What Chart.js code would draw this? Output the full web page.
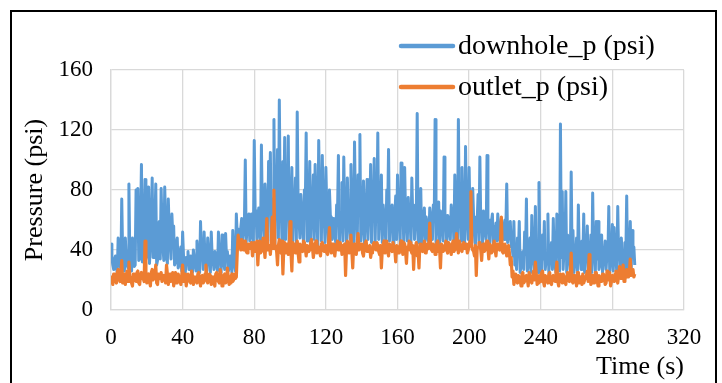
<!DOCTYPE html>
<html>
<head>
<meta charset="utf-8">
<script src="https://cdn.jsdelivr.net/npm/chart.js@4/dist/chart.umd.min.js"></script>
<style>
  html, body { margin: 0; padding: 0; background: #fff; }
  #wrap { width: 722px; height: 383px; position: relative; }
</style>
</head>
<body>
<div id="wrap"><canvas id="c" width="722" height="383"></canvas></div>
<script>
// Series names and axis texts
const seriesNames = ['downhole_p (psi)', 'outlet_p (psi)'];
const xTitle = 'Time (s)';
const yTitle = 'Pressure (psi)';

// Sampling interval of the logger, seconds
const SAMPLE_STEP_S = 0.5;

// Downhole pressure, psi, two readings per second (one row = 5 s)
const downhole = [
  44,35, 30,27, 34,36, 28,25, 48,34, 31,27, 74,37, 33,26, 48,35, 30,28,
  84,36, 35,26, 48,38, 29,30, 80,54, 81,33, 34,56, 97,32, 40,58, 87,34,
  36,55, 82,31, 45,59, 88,35, 38,56, 84,30, 33,57, 59,34, 81,55,
  42,33, 82,58, 35,31, 74,54, 45,34, 64,50, 56,30, 32,44, 48,28, 30,38,
  42,26, 52,36, 28,25, 35,34, 39,27, 27,36, 33,25, 40,35, 30,26, 46,37,
  31,25, 59,36, 40,27, 52,34, 36,26, 48,37, 34,25, 52,35, 33,27, 39,36,
  30,26, 52,34, 35,25, 50,37, 31,27, 51,35, 39,26, 28,36, 34,25, 53,38,
  30,26, 64,50, 54,46, 48,55, 61,47, 52,58, 100,45, 55,62, 64,46, 50,64,
  62,44, 113,66, 66,47, 52,68, 60,43, 110,65, 58,48, 84,70, 62,45, 99,67,
  105,46, 74,71, 127,44, 80,68, 107,48, 140,72, 70,45, 99,69, 115,47,
  76,66, 116,44, 62,70, 95,46, 70,67, 88,43, 132,71, 60,48, 77,65, 55,45,
  80,68, 118,46, 72,70, 99,44, 65,66, 90,47, 97,69, 60,43, 113,71, 85,46,
  103,67, 66,45, 95,68, 58,44, 80,63, 62,47, 61,60, 50,45, 70,64, 103,43,
  60,65, 85,46, 102,62, 66,44, 88,66, 58,47, 97,63, 72,45, 112,67, 64,43,
  90,64, 117,46, 55,62, 86,44, 60,65, 87,47, 68,61, 97,45, 80,66,
  101,44, 74,63, 118,47, 62,65, 90,45, 70,61, 58,43, 80,64, 107,46, 62,60,
  70,44, 55,63, 76,47, 90,61, 60,45, 98,65, 72,43, 95,62, 58,46, 75,60,
  62,44, 88,63, 70,47, 58,60, 131,45, 64,62, 81,43, 56,61, 68,46, 62,58,
  50,44, 68,62, 55,47, 70,59, 127,45, 58,61, 72,43, 66,60, 55,46, 102,58,
  60,44, 63,61, 52,47, 70,59, 62,45, 90,62, 60,43, 127,60, 64,46, 95,63,
  70,44, 109,61, 60,47, 95,60, 66,45, 81,62, 55,43, 62,59, 77,46,
  102,58, 58,44, 66,60, 52,47, 103,57, 55,45, 60,59, 64,43, 50,56, 58,46,
  64,55, 48,44, 61,57, 55,47, 60,54, 84,45, 50,56, 59,42, 42,36, 59,30,
  35,27, 48,36, 59,25, 30,35, 39,27, 52,37, 74,26, 30,34, 48,25, 63,36,
  34,27, 69,35, 40,25, 85,37, 32,26, 50,34, 59,27, 33,36, 64,25, 36,35,
  45,27, 61,36, 30,25, 64,37, 48,26, 124,35, 79,27, 40,36, 79,25, 50,34,
  34,27, 92,36, 53,25, 31,35, 48,26, 70,37, 35,27, 46,34, 64,25,
  38,36, 56,27, 32,35, 50,25, 78,37, 36,26, 59,34, 59,27, 30,36, 50,25,
  34,35, 46,27, 38,36, 69,25, 32,34, 57,26, 55,37, 33,25, 69,35, 40,27,
  48,36, 30,25, 45,34, 76,27, 38,35, 59,26, 53,36, 42,30
];

// Outlet pressure, psi, same time base
const outlet = [
  22,20, 17,24, 24,19, 18,25, 27,21, 19,23, 33,18, 21,24, 17,22, 26,19,
  32,23, 20,18, 16,24, 24,20, 19,25, 26,18, 17,23, 25,21, 21,19, 46,24,
  18,22, 24,19, 16,25, 27,20, 20,23, 30,18, 17,24, 23,21, 25,19,
  19,23, 22,18, 30,24, 17,21, 24,19, 20,25, 16,22, 25,18, 18,24, 22,20,
  17,23, 30,19, 21,24, 16,20, 24,22, 19,18, 26,23, 17,21, 22,19, 18,24,
  25,20, 16,22, 23,18, 19,24, 30,21, 18,19, 24,23, 17,20, 22,18, 16,24,
  25,21, 19,18, 27,23, 16,20, 23,24, 18,19, 28,22, 17,18, 22,24, 19,20,
  24,21, 22,38, 50,45, 44,40, 47,43, 40,46, 46,39, 38,44, 44,41, 41,45,
  36,42, 45,39, 42,46, 30,41, 46,38, 39,44, 48,42, 35,45, 61,40, 40,43,
  37,45, 62,41, 80,44, 42,39, 30,43, 47,40, 38,46, 24,41, 45,38,
  40,44, 37,42, 59,39, 26,45, 44,41, 38,43, 46,38, 32,44, 42,40, 39,46,
  45,41, 36,43, 43,39, 40,45, 47,42, 35,40, 44,46, 38,41, 42,39, 36,44,
  45,40, 39,43, 43,38, 37,45, 55,41, 38,44, 44,39, 36,42, 42,46, 40,40,
  45,43, 37,39, 43,44, 23,40, 46,42, 38,45, 50,39, 28,43, 44,41, 37,45,
  51,40, 40,44, 44,38, 36,42, 45,46, 39,40, 42,43, 35,39, 38,44,
  45,41, 40,45, 43,39, 37,43, 28,40, 44,46, 38,42, 46,39, 36,44, 43,41,
  39,45, 45,40, 32,43, 42,38, 38,44, 46,41, 37,45, 44,39, 31,42, 40,46,
  45,40, 38,43, 27,41, 42,45, 36,39, 28,44, 44,40, 39,42, 46,38, 38,44,
  43,41, 58,45, 40,39, 44,43, 37,40, 45,46, 39,41, 28,44, 43,39, 40,42,
  46,40, 38,45, 44,41, 37,43, 46,39, 40,44, 51,42, 38,46, 44,40, 39,43,
  45,41, 41,44, 38,40, 44,46, 79,42, 40,39, 36,43, 23,41, 42,45,
  45,40, 33,43, 44,39, 40,45, 46,41, 34,44, 43,38, 39,42, 46,40, 36,44,
  44,41, 40,45, 62,39, 38,43, 44,40, 36,42, 43,38, 30,35, 22,26, 17,21,
  24,19, 18,23, 22,20, 16,24, 25,18, 19,22, 23,21, 16,25, 21,19, 18,23,
  26,20, 32,24, 17,18, 23,22, 19,25, 26,19, 16,23, 22,20, 18,24, 25,18,
  17,22, 23,20, 19,25, 32,19, 16,23, 24,21, 18,24, 22,18, 17,22, 25,20,
  19,24, 38,19, 18,23, 23,21, 16,25, 25,18, 20,22, 17,24, 18,20,
  22,23, 26,19, 37,24, 17,21, 23,18, 18,25, 25,20, 16,23, 22,19, 19,24,
  24,21, 17,18, 26,23, 20,25, 16,19, 23,22, 19,24, 26,20, 18,23, 29,21,
  21,25, 30,19, 20,24, 27,22, 22,26, 34,23, 25,27, 22,24
];

// Axis ranges and tick spacing
const xRange = [0, 320];
const xStep = 40;
const yRange = [0, 160];
const yStep = 40;

const colors = ['#5B9BD5', '#ED7D31'];
const serif = "'Liberation Serif', 'Times New Roman', serif";

const timeS = downhole.map((_, i) => i * SAMPLE_STEP_S);
const toPoints = arr => arr.map((v, i) => ({ x: timeS[i], y: v }));

// Outer frame round the whole figure
const framePlugin = {
  id: 'frame',
  beforeDraw(chart) {
    const ctx = chart.ctx;
    ctx.save();
    ctx.fillStyle = '#fff';
    ctx.fillRect(0, 0, chart.width, chart.height);
    ctx.strokeStyle = '#000';
    ctx.lineWidth = 2;
    ctx.strokeRect(11, 11, 705, 420);
    ctx.restore();
  }
};

// Two-row legend placed at the upper right, partly over the plot
const legendPlugin = {
  id: 'stackedLegend',
  afterDraw(chart) {
    const ctx = chart.ctx;
    const rows = [46, 87];
    ctx.save();
    ctx.font = '28px ' + serif;
    ctx.textBaseline = 'middle';
    ctx.textAlign = 'left';
    chart.data.datasets.forEach((ds, i) => {
      const y = rows[i];
      ctx.strokeStyle = ds.borderColor;
      ctx.lineWidth = 4.5;
      ctx.lineCap = 'round';
      ctx.beginPath();
      ctx.moveTo(401, y);
      ctx.lineTo(453, y);
      ctx.stroke();
      ctx.fillStyle = '#000';
      ctx.fillText(ds.label, 458, y + 1);
    });
    ctx.restore();
  }
};

new Chart(document.getElementById('c'), {
  type: 'line',
  data: {
    datasets: [
      { label: seriesNames[0], data: toPoints(downhole), borderColor: colors[0], backgroundColor: colors[0],
        borderWidth: 3, pointRadius: 0, tension: 0, order: 1, borderJoinStyle: 'round' },
      { label: seriesNames[1], data: toPoints(outlet), borderColor: colors[1], backgroundColor: colors[1],
        borderWidth: 3.2, pointRadius: 0, tension: 0, order: 0, borderJoinStyle: 'round' }
    ]
  },
  options: {
    responsive: false,
    animation: false,
    layout: { padding: { top: 70, right: 38, left: 0, bottom: 0 } },
    plugins: { legend: { display: false }, tooltip: { enabled: false } },
    scales: {
      x: {
        type: 'linear', min: xRange[0], max: xRange[1],
        ticks: { stepSize: xStep, color: '#000', font: { family: serif, size: 23 }, padding: 14, maxRotation: 0 },
        grid: { color: '#d9d9d9', lineWidth: 1.3, drawTicks: false },
        border: { color: '#d9d9d9', width: 1.3 },
        title: { display: true, text: xTitle, align: 'end', color: '#000', font: { family: serif, size: 26 }, padding: { top: 0, bottom: 0 } },
        afterFit: s => { s.height = 73; }
      },
      y: {
        type: 'linear', min: yRange[0], max: yRange[1],
        ticks: { stepSize: yStep, color: '#000', font: { family: serif, size: 23 }, padding: 18 },
        grid: { color: '#d9d9d9', lineWidth: 1.3, drawTicks: false },
        border: { color: '#d9d9d9', width: 1.3 },
        title: { display: true, text: yTitle, color: '#000', font: { family: serif, size: 26 }, padding: { top: 20, bottom: 0 } },
        afterFit: s => { s.width = 111; }
      }
    }
  },
  plugins: [framePlugin, legendPlugin]
});
</script>
</body>
</html>
